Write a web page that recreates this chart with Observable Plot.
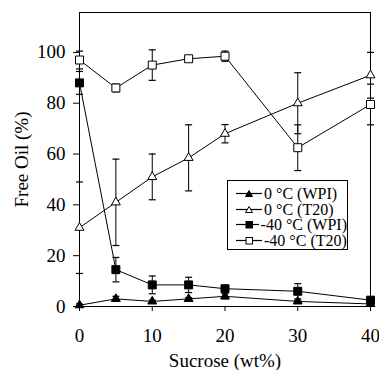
<!DOCTYPE html>
<html>
<head>
<meta charset="utf-8">
<script src="https://cdn.jsdelivr.net/npm/d3@7"></script>
<script src="https://cdn.jsdelivr.net/npm/@observablehq/plot@0.6"></script>
<style>
  body { margin: 0; background: #fff; }
  #wrap { position: relative; width: 379px; height: 370px; font-family: "Liberation Serif", "Times New Roman", serif; }
  #legend { position: absolute; left: 227px; top: 180px; width: 121px; height: 70px; border: 1px solid #000; background: #fff; font-size: 16px; line-height: 15.5px; padding-top: 5px; box-sizing: border-box; }
  .row { display: flex; align-items: center; height: 15.5px; white-space: nowrap; }
  .row svg { margin-left: 8px; margin-right: 2px; }
  svg .axis-title { font-size: 20px; }
</style>
</head>
<body>
<div id="wrap"></div>
<script>
const sucrose = [0, 5, 10, 15, 20, 30, 40];
const wpi0 = [0.5, 3, 2, 3, 4, 2, 1];
const wpi0Err = [0.5, 1, 0.5, 0.5, 1, 0.5, 0.5];
const t20_0 = [31, 41, 51, 58.5, 68, 80, 91];
const t20_0Err = [18, 17, 9, 13, 3.6, 12, 9];
const wpi40 = [88, 14.5, 8.5, 8.5, 7, 6, 2.5];
const wpi40Err = [4.5, 4.8, 3.5, 3, 1, 3, 1];
const t20_40 = [97, 86, 95, 97.5, 98.5, 62.5, 79.5];
const t20_40Err = [3.5, 1.5, 6, 1, 2, 9, 8];

const seriesDefs = [
  {name: "0 °C (WPI)", values: wpi0, err: wpi0Err, symbol: "triangle", fill: "black"},
  {name: "0 °C (T20)", values: t20_0, err: t20_0Err, symbol: "triangle", fill: "white"},
  {name: "-40 °C (WPI)", values: wpi40, err: wpi40Err, symbol: "square", fill: "black"},
  {name: "-40 °C (T20)", values: t20_40, err: t20_40Err, symbol: "square", fill: "white"}
];

const rows = seriesDefs.flatMap(s => sucrose.map((x, i) => ({
  series: s.name, x, y: s.values[i], lo: s.values[i] - s.err[i], hi: s.values[i] + s.err[i],
  symbol: s.symbol, fill: s.fill
})));

const cap = {draw(ctx) { ctx.moveTo(-3.5, 0); ctx.lineTo(3.5, 0); }};

const chart = Plot.plot({
  width: 379,
  height: 370,
  marginLeft: 79,
  marginRight: 9,
  marginTop: 12,
  marginBottom: 64,
  style: {fontFamily: "'Liberation Serif', 'Times New Roman', serif", fontSize: "19px", color: "#000", background: "#fff"},
  x: {domain: [0, 40], ticks: [0, 10, 20, 30, 40], tickSize: 5, tickPadding: 17, label: null},
  y: {domain: [0, 115.7], ticks: [0, 20, 40, 60, 80, 100], tickSize: 6, tickPadding: 8, label: null},
  marks: [
    Plot.frame({stroke: "#000"}),
    Plot.axisX({ticks: [0, 10, 20, 30, 40], tickSize: 5, tickPadding: 17, label: "Sucrose (wt%)", labelAnchor: "center", labelOffset: 60, labelArrow: "none", fontSize: 19}),
    Plot.axisY({ticks: [0, 20, 40, 60, 80, 100], tickSize: 6, tickPadding: 8, label: "Free Oil (%)", labelAnchor: "center", labelOffset: 65, labelArrow: "none", fontSize: 19}),
    Plot.line(rows, {x: "x", y: "y", z: "series", stroke: "#000", strokeWidth: 1}),
    Plot.ruleX(rows, {x: "x", y1: "lo", y2: "hi", stroke: "#000", strokeWidth: 1}),
    Plot.dot(rows, {x: "x", y: "lo", symbol: () => cap, stroke: "#000", strokeWidth: 1.2}),
    Plot.dot(rows, {x: "x", y: "hi", symbol: () => cap, stroke: "#000", strokeWidth: 1.2}),
    Plot.dot(rows.filter(d => d.symbol === "square"), {x: "x", y: "y", symbol: "square", fill: "fill", stroke: "#000", strokeWidth: 1, r: 4.5}),
    Plot.dot(rows.filter(d => d.symbol === "triangle"), {x: "x", y: "y", symbol: "triangle", fill: "fill", stroke: "#000", strokeWidth: 1, r: 3.3})
  ]
});
const wrap = document.getElementById("wrap");
wrap.appendChild(chart);

// in-plot legend box
const legend = document.createElement("div");
legend.id = "legend";
for (const s of seriesDefs) {
  const row = document.createElement("div");
  row.className = "row";
  const sym = s.symbol === "triangle"
    ? `<polygon points="13,4.5 16.5,10.5 9.5,10.5" fill="${s.fill}" stroke="#000" stroke-width="1"/>`
    : `<rect x="10" y="4.5" width="6.5" height="6.5" fill="${s.fill}" stroke="#000" stroke-width="1"/>`;
  row.innerHTML = `<svg width="26" height="15"><line x1="0" x2="26" y1="7.5" y2="7.5" stroke="#000" stroke-width="1.2"/>${sym}</svg><span>${s.name}</span>`;
  legend.appendChild(row);
}
wrap.appendChild(legend);
</script>
</body>
</html>
